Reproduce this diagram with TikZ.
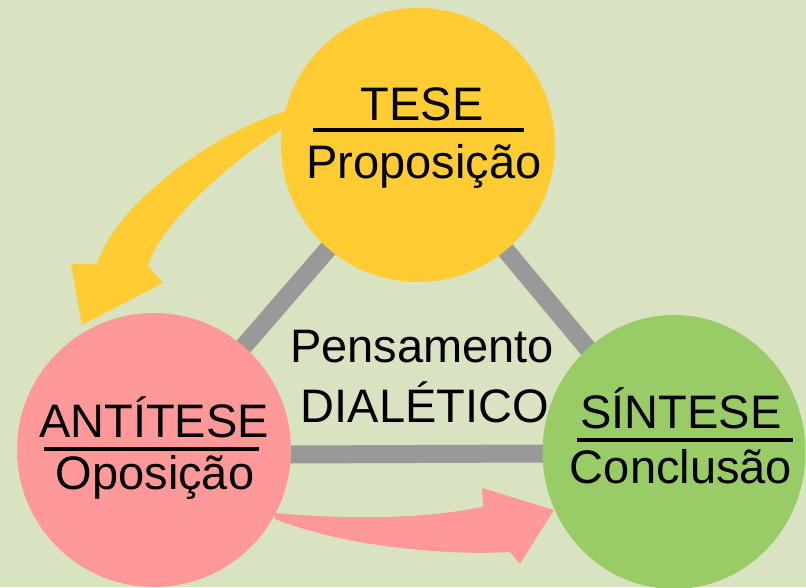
\documentclass[tikz,border=0pt]{standalone}
\usepackage{fontspec}
\setmainfont{Liberation Sans}
\usetikzlibrary{shapes.geometric}
\definecolor{bgc}{RGB}{217,227,193}
\definecolor{yel}{RGB}{255,204,51}
\definecolor{pnk}{RGB}{255,153,153}
\definecolor{grn}{RGB}{153,204,102}
\definecolor{gry}{RGB}{153,153,153}
\tikzset{
  bubble/.style={circle,inner sep=0pt,minimum size=274pt},
  lab/.style={inner sep=0pt,anchor=base,font=\fontsize{47}{50}\selectfont},
  link/.style={draw=gry,line width=18pt},
  rulebar/.style={line width=4.5pt,black},
}
\begin{document}
\begin{tikzpicture}[x=1pt,y=-1pt]
\useasboundingbox (0,0) rectangle (806,587);
\fill[bgc] (0,0) rectangle (806,587);
% circle centres
\coordinate (cT) at (418,145);
\coordinate (cA) at (154,450);
\coordinate (cS) at (674,452);
% grey links
\draw[link] (cT) -- (cA);
\draw[link] (cT) -- (cS);
\draw[link] ([yshift=-5pt]cA) -- ([yshift=-1pt]cS);
% yellow curved arrow
\fill[yel] (290,110) .. controls (230,125) and (120,195) .. (97,264)
  -- (71,264) -- (82,325) -- (163,283) -- (148,266)
  .. controls (160,225) and (225,165) .. (290,124) -- cycle;
% pink arrow
\fill[pnk] (275,513) .. controls (380,522) and (440,515) .. (483,507)
  -- (482,488) -- (554,510) -- (520,564) -- (510,552)
  .. controls (440,556) and (340,545) .. (275,519) -- cycle;
% circles
\node[bubble,fill=yel] (T) at (cT) {};
\node[bubble,fill=pnk] (A) at (cA) {};
\node[ellipse,inner sep=0pt,minimum width=263pt,minimum height=274pt,fill=grn] (S) at (cS) {};
% texts
\node[lab] (tT1) at (422,120) {TESE};
\draw[rulebar] (313,130) -- (524,130);
\node[lab] (tT2) at (424,178) {Proposição};
\node[lab] (tA1) at (154,437) {ANTÍTESE};
\draw[rulebar] (44,449) -- (259,449);
\node[lab] (tA2) at (155,489) {Oposição};
\node[lab] (tS1) at (681,428) {SÍNTESE};
\draw[rulebar] (577,440) -- (793,440);
\node[lab] (tS2) at (681,483) {Conclusão};
\node[lab] (tC1) at (422,362) {Pensamento};
\node[lab] (tC2) at (425,422) {DIALÉTICO};
\end{tikzpicture}
\end{document}
